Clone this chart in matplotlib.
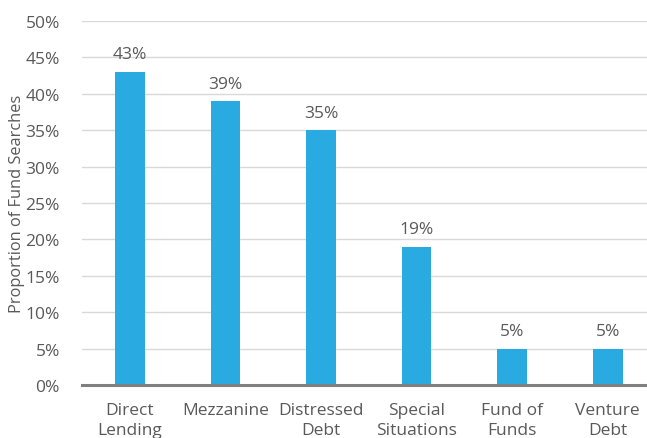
import matplotlib.pyplot as plt

plt.rcParams['font.family'] = ['Open Sans', 'DejaVu Sans']

categories = ["Direct\nLending", "Mezzanine", "Distressed\nDebt",
              "Special\nSituations", "Fund of\nFunds", "Venture\nDebt"]
shares = [43, 39, 35, 19, 5, 5]
yticks = [0, 5, 10, 15, 20, 25, 30, 35, 40, 45, 50]

text_color = "#595959"
bar_color = "#29abe2"

fig = plt.figure(figsize=(6.47, 4.39), dpi=100)
ax = fig.add_axes([82 / 647, 53 / 439, 573.6 / 647, 364 / 439])

x = range(len(categories))
bars = ax.bar(x, shares, width=0.31, color=bar_color, zorder=3)
for xi, v in zip(x, shares):
    ax.text(xi, v + 1.3, f"{v}%", ha="center", va="bottom",
            fontsize=12.5, color=text_color)

ax.set_xlim(-0.5, 5.5)
ax.set_ylim(0, 50)
ax.set_yticks(yticks)
ax.set_yticklabels([f"{t}%" for t in yticks])
ax.yaxis.grid(True, color="#d9d9d9", linewidth=1, zorder=0)
ax.set_xticks(list(x))
ax.set_xticklabels(categories, linespacing=1.4)

for side in ["top", "right", "left"]:
    ax.spines[side].set_visible(False)
ax.spines["bottom"].set_color("#808080")
ax.spines["bottom"].set_linewidth(2.2)
ax.spines["bottom"].set_zorder(4)

ax.tick_params(axis="both", length=0, labelsize=12.5, labelcolor=text_color)
ax.tick_params(axis="y", pad=16)
ax.tick_params(axis="x", pad=12)

ax.set_ylabel("Proportion of Fund Searches", fontsize=11.8, color=text_color)
ax.yaxis.set_label_coords(-0.099, 0.5)

fig.savefig("out.png", dpi=100)
